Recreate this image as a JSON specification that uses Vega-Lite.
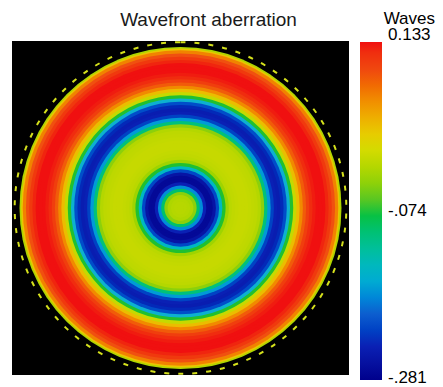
{
  "$schema": "https://vega.github.io/schema/vega-lite/v6.json",
  "width": 337,
  "height": 334,
  "autosize": {"type": "none"},
  "padding": {"left": 12, "top": 41, "right": 94, "bottom": 12},
  "background": "white",
  "view": {"fill": "black", "stroke": null},
  "config": {"font": "Liberation Sans"},
  "title": {
    "text": "Wavefront aberration",
    "font": "Liberation Sans",
    "fontSize": 19,
    "fontWeight": "normal",
    "color": "#1a1a1a",
    "anchor": "middle",
    "frame": "group",
    "baseline": "alphabetic",
    "dx": 28,
    "offset": -33
  },
  "layer": [
    {
      "data": {
        "name": "rings",
        "values": [
          {"rho": 1.00, "waves": -0.024},
          {"rho": 0.99, "waves": 0.025},
          {"rho": 0.98, "waves": 0.067},
          {"rho": 0.96, "waves": 0.092},
          {"rho": 0.94, "waves": 0.112},
          {"rho": 0.92, "waves": 0.125},
          {"rho": 0.90, "waves": 0.133},
          {"rho": 0.88, "waves": 0.133},
          {"rho": 0.86, "waves": 0.133},
          {"rho": 0.84, "waves": 0.129},
          {"rho": 0.82, "waves": 0.121},
          {"rho": 0.80, "waves": 0.108},
          {"rho": 0.78, "waves": 0.087},
          {"rho": 0.76, "waves": 0.063},
          {"rho": 0.74, "waves": 0.030},
          {"rho": 0.72, "waves": -0.008},
          {"rho": 0.70, "waves": -0.074},
          {"rho": 0.68, "waves": -0.157},
          {"rho": 0.66, "waves": -0.211},
          {"rho": 0.64, "waves": -0.235},
          {"rho": 0.62, "waves": -0.244},
          {"rho": 0.60, "waves": -0.240},
          {"rho": 0.58, "waves": -0.219},
          {"rho": 0.56, "waves": -0.169},
          {"rho": 0.54, "waves": -0.103},
          {"rho": 0.52, "waves": -0.041},
          {"rho": 0.50, "waves": -0.020},
          {"rho": 0.48, "waves": -0.014},
          {"rho": 0.46, "waves": -0.012},
          {"rho": 0.44, "waves": -0.010},
          {"rho": 0.42, "waves": -0.008},
          {"rho": 0.40, "waves": -0.008},
          {"rho": 0.38, "waves": -0.008},
          {"rho": 0.36, "waves": -0.010},
          {"rho": 0.34, "waves": -0.012},
          {"rho": 0.32, "waves": -0.016},
          {"rho": 0.30, "waves": -0.033},
          {"rho": 0.28, "waves": -0.074},
          {"rho": 0.26, "waves": -0.144},
          {"rho": 0.24, "waves": -0.215},
          {"rho": 0.22, "waves": -0.256},
          {"rho": 0.20, "waves": -0.269},
          {"rho": 0.18, "waves": -0.269},
          {"rho": 0.16, "waves": -0.240},
          {"rho": 0.14, "waves": -0.177},
          {"rho": 0.12, "waves": -0.095},
          {"rho": 0.10, "waves": -0.041},
          {"rho": 0.08, "waves": -0.024},
          {"rho": 0.06, "waves": -0.020},
          {"rho": 0.04, "waves": -0.018},
          {"rho": 0.02, "waves": -0.018}
        ]
      },
      "mark": {"type": "arc", "theta": 0, "theta2": 6.2832, "stroke": null},
      "encoding": {
        "radius": {
          "field": "rho",
          "type": "quantitative",
          "stack": null,
          "scale": {"type": "linear", "domain": [0, 1], "range": [0, 161], "zero": true}
        },
        "color": {
          "field": "waves",
          "type": "quantitative",
          "scale": {
            "domain": [-0.281, 0.133],
            "range": ["#00008c", "#0a20b4", "#1060d0", "#10b0d0", "#10c090", "#20c030", "#a0d400", "#e0dc00", "#f0a000", "#f05010", "#f01010"]
          },
          "legend": {
            "title": "Waves",
            "orient": "none",
            "legendX": 348,
            "legendY": -29,
            "direction": "vertical",
            "padding": 0,
            "gradientLength": 338,
            "gradientThickness": 22,
            "gradientStrokeWidth": 0,
            "values": [0.133, -0.074, -0.281],
            "labelExpr": "replace(replace(format(datum.value, '.3f'), '\u22120.', '-.'), '-0.', '-.')",
            "labelFont": "Liberation Sans",
            "labelFontSize": 17,
            "labelColor": "black",
            "labelOffset": 6,
            "labelOverlap": false,
            "titleFont": "Liberation Sans",
            "titleFontSize": 17,
            "titleFontWeight": "normal",
            "titleColor": "black",
            "titleAnchor": "end",
            "titlePadding": 13,
            "encode": {
              "title": {"update": {"dx": {"value": 4}, "dy": {"value": -1}}},
              "labels": {
                "update": {
                  "baseline": {"value": "middle"},
                  "dy": {"signal": "datum.value > 0.1 ? -7 : datum.value < -0.2 ? -2 : 0"}
                }
              }
            }
          }
        }
      }
    },
    {
      "data": {"name": "rim", "values": [{"rho": 1.03}]},
      "mark": {
        "type": "arc",
        "theta": 0,
        "theta2": 6.2832,
        "fill": "black",
        "fillOpacity": 0,
        "stroke": "#d4e01c",
        "strokeWidth": 2,
        "strokeDash": [5, 9]
      },
      "encoding": {
        "radius": {"field": "rho", "type": "quantitative", "stack": null}
      }
    }
  ]
}
